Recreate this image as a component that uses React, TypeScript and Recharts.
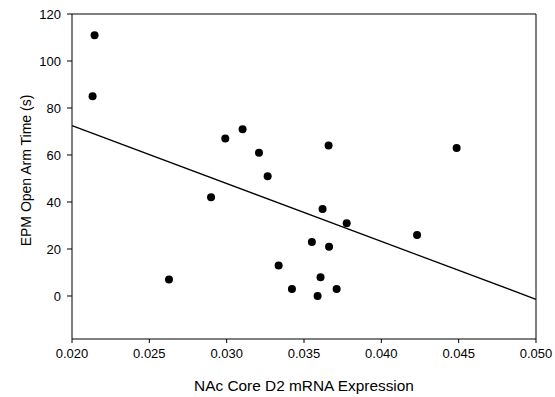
import React from 'react';
import { ComposedChart, Scatter, XAxis, YAxis, ReferenceLine, Label } from 'recharts';

const xValues = [0.02146, 0.02133, 0.02991, 0.03103, 0.03209, 0.03265, 0.02899, 0.03620, 0.03776, 0.04231, 0.03551, 0.03662, 0.03336, 0.02627, 0.03607, 0.03422, 0.03711, 0.03588, 0.03659, 0.04487];
const yValues = [111, 85, 67, 71, 61, 51, 42, 37, 31, 26, 23, 21, 13, 7, 8, 3, 3, 0, 64, 63];
const fitX = [0.020, 0.050];
const fitY = [72.5, -1.4];
const xTicks = [0.020, 0.025, 0.030, 0.035, 0.040, 0.045, 0.050];
const yTicks = [0, 20, 40, 60, 80, 100, 120];

const points = xValues.map((x, i) => ({ x, y: yValues[i] }));
const font = 'Liberation Sans, Arial, sans-serif';

const YLabel = (props: any) => {
  const vb = props.viewBox || {};
  const cx = vb.x + 26;
  const cy = vb.y + vb.height / 2 - 6;
  return (
    <text x={cx} y={cy} transform={`rotate(-90, ${cx}, ${cy})`} textAnchor="middle" dominantBaseline="central" fontFamily={font} fontSize={14} fill="#000">
      EPM Open Arm Time (s)
    </text>
  );
};

const XLabel = (props: any) => {
  const vb = props.viewBox || {};
  const cx = vb.x + vb.width / 2;
  const cy = vb.y + 46;
  return (
    <text x={cx} y={cy} textAnchor="middle" dominantBaseline="central" fontFamily={font} fontSize={15.4} fill="#000">
      NAc Core D2 mRNA Expression
    </text>
  );
};

export default function App() {
  return (
    <div style={{ position: 'absolute', left: 0, top: 0, background: '#fff' }}>
      <ComposedChart width={555} height={397} margin={{ top: 14, right: 19, left: 0, bottom: 0 }}>
        <XAxis
          type="number"
          dataKey="x"
          domain={[0.02, 0.05]}
          ticks={xTicks}
          tickFormatter={(v: number) => v.toFixed(3)}
          height={58}
          stroke="#000"
          tickSize={4}
          tickMargin={6}
          tick={{ fill: '#000', fontSize: 13, fontFamily: font }}
          allowDataOverflow
        >
          <Label content={<XLabel />} />
        </XAxis>
        <YAxis
          type="number"
          dataKey="y"
          domain={[-18.3, 120]}
          ticks={yTicks}
          width={72}
          stroke="#000"
          tickSize={5}
          tickMargin={6}
          tick={{ fill: '#000', fontSize: 13, fontFamily: font }}
          allowDataOverflow
        >
          <Label content={<YLabel />} />
        </YAxis>
        <ReferenceLine y={120} stroke="#000" strokeWidth={1} />
        <ReferenceLine x={0.05} stroke="#000" strokeWidth={1} />
        <ReferenceLine
          segment={[{ x: fitX[0], y: fitY[0] }, { x: fitX[1], y: fitY[1] }]}
          stroke="#000"
          strokeWidth={1.3}
        />
        <Scatter data={points} fill="#000" isAnimationActive={false} shape={(p: any) => <circle cx={p.cx} cy={p.cy} r={4} fill="#000" />} />
      </ComposedChart>
    </div>
  );
}
